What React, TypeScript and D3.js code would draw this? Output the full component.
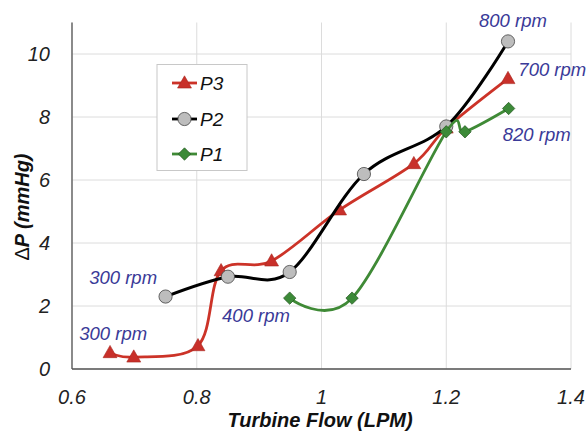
import React from "react";
import * as d3 from "d3";

const p3X = [0.661, 0.699, 0.802, 0.839, 0.92, 1.029, 1.148, 1.2, 1.299];
const p3Y = [0.52, 0.38, 0.74, 3.12, 3.43, 5.05, 6.52, 7.65, 9.22];
const p2X = [0.75, 0.85, 0.949, 1.068, 1.2, 1.299];
const p2Y = [2.3, 2.93, 3.08, 6.19, 7.7, 10.4];
const p1X = [0.949, 1.049, 1.2, 1.23, 1.3];
const p1Y = [2.25, 2.25, 7.53, 7.53, 8.27];

const xTicks = [0.6, 0.8, 1.0, 1.2, 1.4];
const yTicks = [0, 2, 4, 6, 8, 10];

const rpmLabels = [
  { text: "800 rpm", x: 1.307, y: 11.05 },
  { text: "700 rpm", x: 1.37, y: 9.52 },
  { text: "820 rpm", x: 1.345, y: 7.43 },
  { text: "300 rpm", x: 0.682, y: 2.89 },
  { text: "300 rpm", x: 0.666, y: 1.14 },
  { text: "400 rpm", x: 0.895, y: 1.71 },
];

const W = 586;
const H = 435;
const left = 72;
const right = 571;
const bottom = 369;
const top = 22.5;

const FONT = "'Liberation Sans', Arial, sans-serif";

export default function App() {
  const x = d3.scaleLinear().domain([0.6, 1.4]).range([left, right]);
  const y = d3.scaleLinear().domain([0, 11]).range([bottom, top]);
  const line = d3
    .line<[number, number]>()
    .x((d) => x(d[0]))
    .y((d) => y(d[1]))
    .curve(d3.curveCardinal.tension(0));

  const zip = (a: number[], b: number[]) => a.map((v, i) => [v, b[i]] as [number, number]);
  const p3 = zip(p3X, p3Y);
  const p2 = zip(p2X, p2Y);
  const p1 = zip(p1X, p1Y);

  const tri = (cx: number, cy: number, s: number) =>
    `M${cx},${cy - s * 0.6} L${cx + s * 0.58},${cy + s * 0.42} L${cx - s * 0.58},${cy + s * 0.42} Z`;
  const dia = (cx: number, cy: number, s: number) =>
    `M${cx},${cy - s} L${cx + s},${cy} L${cx},${cy + s} L${cx - s},${cy} Z`;

  const red = "#cc3328";
  const redFill = "#c8302a";
  const green = "#3f8a36";
  const greenFill = "#3c8a38";
  const triS = 12;
  const diaS = 6.2;

  return (
    <svg width={W} height={H} style={{ position: "absolute", left: 0, top: 0, background: "#fff" }}>
      {/* gridlines */}
      {yTicks.map((t) => (
        <line key={"gy" + t} x1={left} x2={right} y1={y(t)} y2={y(t)} stroke="#dcdcdc" strokeWidth={1} />
      ))}
      {xTicks.map((t) => (
        <line key={"gx" + t} x1={x(t)} x2={x(t)} y1={top} y2={bottom} stroke="#dcdcdc" strokeWidth={1} />
      ))}
      {/* axes */}
      <line x1={left} x2={left} y1={top} y2={bottom} stroke="#555" strokeWidth={1.3} />
      <line x1={left} x2={right} y1={bottom} y2={bottom} stroke="#555" strokeWidth={1.3} />

      {/* tick labels */}
      {yTicks.map((t) => (
        <text key={"ty" + t} x={50} y={y(t)} dy="0.35em" textAnchor="end" fontFamily={FONT} fontStyle="italic" fontSize={20} fill="#222">
          {t}
        </text>
      ))}
      {xTicks.map((t) => (
        <text key={"tx" + t} x={x(t)} y={397} dy="0.35em" textAnchor="middle" fontFamily={FONT} fontStyle="italic" fontSize={20} fill="#222">
          {t === 1 ? "1" : t.toFixed(1)}
        </text>
      ))}

      {/* axis titles */}
      <text x={320} y={427} textAnchor="middle" fontFamily={FONT} fontStyle="italic" fontWeight="bold" fontSize={20} fill="#111">
        Turbine Flow (LPM)
      </text>
      <text transform="translate(22,207) rotate(-90)" dy="0.35em" textAnchor="middle" fontFamily={FONT} fontStyle="italic" fontWeight="bold" fontSize={20} fill="#111">
        <tspan fontWeight="normal" fontStyle="normal">Δ</tspan>P (mmHg)
      </text>

      {/* P3 */}
      <path d={line(p3) || ""} fill="none" stroke={red} strokeWidth={2.8} />
      {p3.map((d, i) => (
        <path key={"p3" + i} d={tri(x(d[0]), y(d[1]), triS)} fill={redFill} stroke="#a8261e" strokeWidth={0.6} />
      ))}
      {/* P2 */}
      <path d={line(p2) || ""} fill="none" stroke="#000" strokeWidth={3} />
      {p2.map((d, i) => (
        <circle key={"p2" + i} cx={x(d[0])} cy={y(d[1])} r={6.6} fill="#bdbdbd" stroke="#444" strokeWidth={0.8} />
      ))}
      {/* P1 */}
      <path d={line(p1) || ""} fill="none" stroke={green} strokeWidth={2.8} />
      {p1.map((d, i) => (
        <path key={"p1" + i} d={dia(x(d[0]), y(d[1]), diaS)} fill={greenFill} stroke="#24561f" strokeWidth={0.7} />
      ))}

      {/* rpm labels */}
      {rpmLabels.map((l, i) => (
        <text key={"l" + i} x={x(l.x)} y={y(l.y)} dy="0.35em" textAnchor="middle" fontFamily={FONT} fontStyle="italic" fontSize={18.5} fill="#3a3a98">
          {l.text}
        </text>
      ))}

      {/* legend */}
      <rect x={157} y={64.5} width={90} height={106} fill="#fff" stroke="#c8c8c8" strokeWidth={1} />
      {[
        { name: "P3", y: 83, kind: "tri" },
        { name: "P2", y: 119, kind: "circ" },
        { name: "P1", y: 154, kind: "dia" },
      ].map((e) => (
        <g key={e.name}>
          <line x1={172} x2={197} y1={e.y} y2={e.y} stroke={e.kind === "tri" ? red : e.kind === "circ" ? "#000" : green} strokeWidth={2.8} />
          {e.kind === "tri" && <path d={tri(184.5, e.y, triS)} fill={redFill} stroke="#a8261e" strokeWidth={0.6} />}
          {e.kind === "circ" && <circle cx={184.5} cy={e.y} r={6.6} fill="#bdbdbd" stroke="#444" strokeWidth={0.8} />}
          {e.kind === "dia" && <path d={dia(184.5, e.y, diaS)} fill={greenFill} stroke="#24561f" strokeWidth={0.7} />}
          <text x={200} y={e.y} dy="0.35em" fontFamily={FONT} fontStyle="italic" fontSize={19} fill="#111">
            {e.name}
          </text>
        </g>
      ))}
    </svg>
  );
}
